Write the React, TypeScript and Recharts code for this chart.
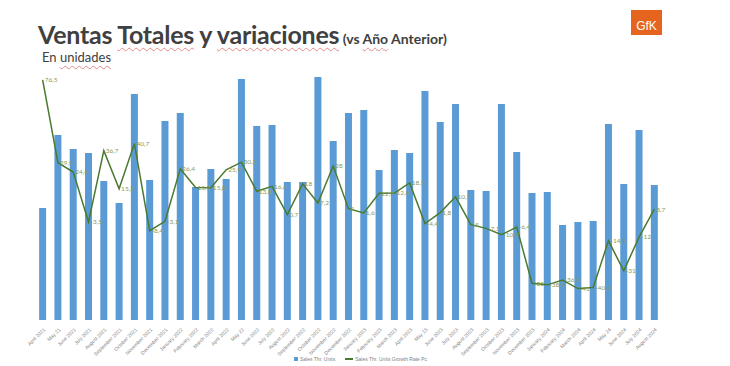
import React from 'react'
import { ComposedChart, Bar, Line, XAxis, YAxis, LabelList } from 'recharts'

const months = [
  'April 2021', 'May 21', 'June 2021', 'July 2021', 'August 2021', 'September 2021',
  'October 2021', 'November 2021', 'December 2021', 'January 2022', 'February 2022',
  'March 2022', 'April 2022', 'May 22', 'June 2022', 'July 2022', 'August 2022',
  'September 2022', 'October 2022', 'November 2022', 'December 2022', 'January 2023',
  'February 2023', 'March 2023', 'April 2023', 'May 23', 'June 2023', 'July 2023',
  'August 2023', 'September 2023', 'October 2023', 'November 2023', 'December 2023',
  'January 2024', 'February 2024', 'March 2024', 'April 2024', 'May 24', 'June 2024',
  'July 2024', 'August 2024',
]

// units sold (thousands)
const salesUnits = [
  112, 185, 171, 167, 139, 117, 226, 140, 199, 207, 133, 151, 141, 241, 194, 195, 138,
  138, 243, 179, 207, 210, 150, 170, 167, 229, 198, 216, 130, 129, 216, 168, 127, 128,
  95, 98, 99, 196, 136, 190, 135,
]

// % growth vs previous year
const growthPct = [
  76.5, 29.9, 24.6, -3.5, 36.7, 15.2, 40.7, -8.4, -3.1, 26.4, 15.9, 15.8, 25.9, 30.2,
  13.8, 16.6, 0.7, 18, 7.2, 28, 4, 1.6, 12.7, 12.8, 18.5, -4.4, 1.8, 10.7, -5, -7.1,
  -10.7, -6.4, -38, -38.9, -36.2, -41, -40.4, -14.1, -31, -12, 3.7,
]

const data = months.map((m, i) => ({ month: m, units: salesUnits[i], growth: growthPct[i] }))

const fmt = (v: number) => String(v).replace('.', ',')

function MonthTick({ x, y, payload }: any) {
  return (
    <text
      x={x + 3}
      y={y + 2}
      transform={`rotate(-45, ${x + 3}, ${y + 2})`}
      textAnchor="end"
      fontSize={5}
      fill="#7f7f7f"
      fontFamily="Liberation Sans, Arial, sans-serif"
    >
      {payload.value}
    </text>
  )
}

const squiggle = { textDecoration: 'underline wavy #e58a8a', textDecorationThickness: '1px', textUnderlineOffset: '3px' }

export default function App() {
  return (
    <div style={{ position: 'relative', width: 730, height: 366, background: '#fff', fontFamily: 'Lato, sans-serif' }}>
      <style>{`body{margin:0}`}</style>
      <div style={{ position: 'absolute', left: 38, top: 19, color: '#404040', whiteSpace: 'nowrap' }}>
        <span style={{ fontSize: 25, fontWeight: 700, letterSpacing: -0.25 }}>
          Ventas <span style={squiggle}>Totales</span> y <span style={squiggle}>variaciones</span>
        </span>
        <span style={{ fontSize: 14, fontWeight: 700 }}> (vs <span style={squiggle}>Año</span> Anterior)</span>
      </div>
      <div style={{ position: 'absolute', left: 42, top: 49, fontSize: 13, color: '#404040' }}>
        En <span style={squiggle}>unidades</span>
      </div>
      <div
        style={{
          position: 'absolute', left: 631, top: 10, width: 31, height: 25, background: '#e5641e',
          color: '#fff', fontSize: 12, fontWeight: 400, display: 'flex', alignItems: 'flex-end',
          justifyContent: 'center', paddingBottom: 2, boxSizing: 'border-box', fontFamily: 'Liberation Sans, Arial, sans-serif',
        }}
      >
        GfK
      </div>
      <ComposedChart
        width={730}
        height={366}
        data={data}
        margin={{ top: 70, right: 68, bottom: 16, left: 35 }}
        barCategoryGap="27%"
      >
        <XAxis dataKey="month" interval={0} axisLine={false} tickLine={false} height={30} tick={<MonthTick />} />
        <YAxis yAxisId="u" hide domain={[0, 250]} />
        <YAxis yAxisId="g" hide orientation="right" domain={[-58.7, 82.1]} />
        <Bar yAxisId="u" dataKey="units" fill="#5b9bd5" isAnimationActive={false} />
        <Line
          yAxisId="g"
          dataKey="growth"
          stroke="#4a7a30"
          strokeWidth={1.5}
          dot={false}
          type="linear"
          isAnimationActive={false}
        >
          <LabelList dataKey="growth" position="right" offset={2} fontSize={6.5} fill="#8c9a55" formatter={(v: any) => fmt(v)} />
        </Line>
      </ComposedChart>
      <div
        style={{
          position: 'absolute', left: 294, top: 356, fontSize: 5, color: '#7f7f7f', display: 'flex',
          alignItems: 'center', gap: 10, fontFamily: 'Liberation Sans, Arial, sans-serif',
        }}
      >
        <span style={{ display: 'flex', alignItems: 'center', gap: 2 }}>
          <span style={{ width: 4, height: 4, background: '#5b9bd5', display: 'inline-block' }} />
          Sales Thr. Units
        </span>
        <span style={{ display: 'flex', alignItems: 'center', gap: 2 }}>
          <span style={{ width: 8, height: 1.5, background: '#4a7a30', display: 'inline-block' }} />
          Sales Thr. Units Growth Rate Pc
        </span>
      </div>
    </div>
  )
}
